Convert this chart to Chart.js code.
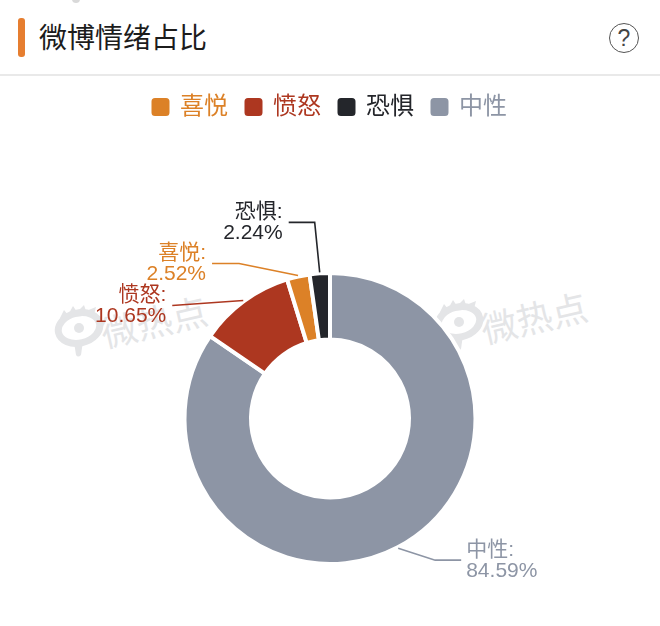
<!DOCTYPE html>
<html>
<head>
<meta charset="utf-8">
<script src="https://cdn.jsdelivr.net/npm/chart.js@4"></script>
<style>
  html, body { margin: 0; padding: 0; background: #fff; }
  body { width: 660px; height: 626px; position: relative; overflow: hidden;
         font-family: "Liberation Sans", "Noto Sans CJK SC", sans-serif; }
  #dot { position: absolute; left: 72px; top: -5px; width: 8px; height: 8px; border-radius: 50%; background: #d9d9d9; }
  #bar { position: absolute; left: 18px; top: 18px; width: 7px; height: 39px; border-radius: 3px; background: #e67e30; }
  #title { position: absolute; left: 39px; top: 19px; font-size: 28px; line-height: 40px; color: #1c1c1c; }
  #help { position: absolute; left: 609px; top: 23px; width: 28px; height: 28px; border: 1.5px solid #555; border-radius: 50%;
          font-size: 23px; line-height: 29px; text-align: center; color: #444; }
  #sep { position: absolute; left: 0; top: 74px; width: 660px; height: 2px; background: #e9e9e9; }
  .mark { position: absolute; transform: rotate(-13deg); transform-origin: left center; color: #e4e5e7; font-size: 36px; line-height: 40px; white-space: nowrap; }
  .logo { position: absolute; width: 50px; height: 54px; }
  #wrap { position: absolute; left: 0; top: 0; width: 660px; height: 626px; }
</style>
</head>
<body>
<div id="dot"></div>
<div id="bar"></div>
<div id="title">微博情绪占比</div>
<div id="help">?</div>
<div id="sep"></div>

<svg class="logo" style="left:54px;top:304px" viewBox="0 0 50 54">
  <ellipse cx="25" cy="24" rx="21" ry="15" fill="none" stroke="#e4e5e7" stroke-width="7" transform="rotate(-13 25 24)"/>
  <circle cx="25" cy="24" r="5" fill="#e4e5e7"/>
  <path d="M20 38 L29 37 L27 51 Q24 54 22 51 Z" fill="#e4e5e7"/>
  <path d="M6 14 L10 6 L14 11 L19 2 L23 8 L30 1 L32 7 L42 3 L40 11 Z" fill="#e4e5e7"/>
</svg>
<div class="mark" style="left:102px;top:316px">微热点</div>
<svg class="logo" style="left:434px;top:298px" viewBox="0 0 50 54">
  <ellipse cx="25" cy="24" rx="21" ry="15" fill="none" stroke="#e4e5e7" stroke-width="7" transform="rotate(-13 25 24)"/>
  <circle cx="25" cy="24" r="5" fill="#e4e5e7"/>
  <path d="M20 38 L29 37 L27 51 Q24 54 22 51 Z" fill="#e4e5e7"/>
  <path d="M6 14 L10 6 L14 11 L19 2 L23 8 L30 1 L32 7 L42 3 L40 11 Z" fill="#e4e5e7"/>
</svg>
<div class="mark" style="left:482px;top:312px">微热点</div>

<div id="wrap"><canvas id="grafico" width="660" height="626"></canvas></div>

<script>
// clockwise from 12 o'clock, as on the ring
const categorias = ['中性', '愤怒', '喜悦', '恐惧'];
const valores = [84.59, 10.65, 2.52, 2.24];
const colores = ['#8d95a5', '#ad3720', '#dc8127', '#24262b'];
const ordenLeyenda = ['喜悦', '愤怒', '恐惧', '中性'];

// leader line: elbow and end relative to the point on the ring, then text anchor
const guias = {
  '恐惧': { codo: [-5, -50], fin: [-31, -50], lado: 'right', tx: -6 },
  '喜悦': { codo: [-59, -12], fin: [-86, -12], lado: 'right', tx: -6 },
  '愤怒': { codo: [-71, 5], fin: [-71, 5], lado: 'right', tx: -6 },
  '中性': { codo: [37, 12], fin: [63, 12], lado: 'left', tx: 5 }
};

const fuente = '"Liberation Sans", "Noto Sans CJK SC", sans-serif';

const etiquetas = {
  id: 'etiquetas',
  afterDatasetsDraw(chart) {
    const ctx = chart.ctx;
    const arcos = chart.getDatasetMeta(0).data;
    arcos.forEach((arco, i) => {
      const nombre = categorias[i];
      const g = guias[nombre];
      const p = arco.getProps(['x', 'y', 'startAngle', 'endAngle', 'outerRadius'], true);
      const a = (p.startAngle + p.endAngle) / 2;
      const x0 = p.x + Math.cos(a) * (p.outerRadius + 1);
      const y0 = p.y + Math.sin(a) * (p.outerRadius + 1);
      ctx.save();
      ctx.strokeStyle = colores[i];
      ctx.lineWidth = 1.6;
      ctx.beginPath();
      ctx.moveTo(x0, y0);
      ctx.lineTo(x0 + g.codo[0], y0 + g.codo[1]);
      ctx.lineTo(x0 + g.fin[0], y0 + g.fin[1]);
      ctx.stroke();
      ctx.fillStyle = colores[i];
      ctx.font = '21px ' + fuente;
      ctx.textAlign = g.lado;
      ctx.textBaseline = 'middle';
      const tx = x0 + g.fin[0] + g.tx;
      const ty = y0 + g.fin[1];
      ctx.fillText(nombre + ':', tx, ty - 10);
      ctx.fillText(valores[i].toFixed(2) + '%', tx, ty + 11);
      ctx.restore();
    });
  }
};

new Chart(document.getElementById('grafico').getContext('2d'), {
  type: 'doughnut',
  data: {
    labels: categorias,
    datasets: [{
      data: valores,
      backgroundColor: colores,
      borderColor: '#ffffff',
      borderWidth: 4,
      hoverOffset: 0
    }]
  },
  plugins: [etiquetas],
  options: {
    responsive: false,
    animation: false,
    cutout: 79,
    layout: { padding: { top: 77, bottom: 60 } },
    plugins: {
      tooltip: { enabled: false },
      // empty title only keeps the gap between legend and ring
      title: { display: true, text: '', weight: 500, font: { size: 10 }, padding: { top: 0, bottom: 130 } },
      legend: {
        position: 'top',
        labels: {
          boxWidth: 15,
          boxHeight: 15,
          useBorderRadius: true,
          borderRadius: 2,
          padding: 18,
          font: { size: 24, family: fuente },
          generateLabels(chart) {
            return ordenLeyenda.map(nombre => {
              const i = categorias.indexOf(nombre);
              return {
                text: nombre,
                index: i,
                fillStyle: colores[i],
                strokeStyle: colores[i],
                fontColor: colores[i],
                lineWidth: 3,
                borderRadius: 2,
                hidden: false
              };
            });
          }
        }
      }
    }
  }
});
</script>
</body>
</html>
